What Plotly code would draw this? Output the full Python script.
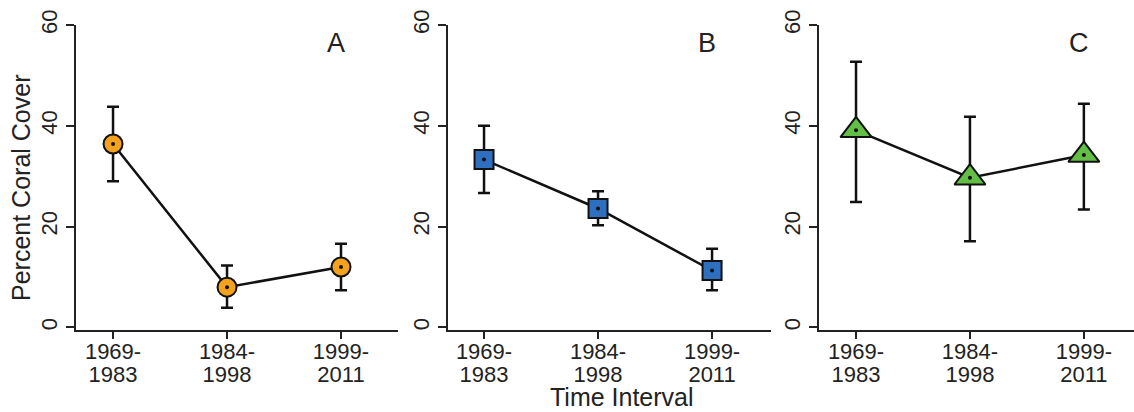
import plotly.graph_objects as go

interval_start = ["1969-", "1984-", "1999-"]
interval_end = ["1983", "1998", "2011"]
panel_labels = ["A", "B", "C"]

mean_a = [36.4, 8.0, 12.0]
upper_a = [43.8, 12.3, 16.6]
lower_a = [29.0, 3.9, 7.4]

mean_b = [33.3, 23.6, 11.3]
upper_b = [40.0, 27.0, 15.6]
lower_b = [26.7, 20.3, 7.4]

mean_c = [39.1, 29.7, 34.2]
upper_c = [52.7, 41.8, 44.4]
lower_c = [24.9, 17.1, 23.4]

y_ticks = [0, 20, 40, 60]

W, H = 1134, 412
ML, MR, MT, MB = 0, 0, 25, 82
FONT = "Liberation Sans, Arial"
TXT = "#222222"

panels = [
    dict(mean=mean_a, up=upper_a, lo=lower_a, symbol="circle", color="#F4A11D", size=19,
         dom=(76, 398), xr=(-0.325, 2.5)),
    dict(mean=mean_b, up=upper_b, lo=lower_b, symbol="square", color="#2F6FC0", size=19,
         dom=(448, 771), xr=(-0.316, 2.517)),
    dict(mean=mean_c, up=upper_c, lo=lower_c, symbol="triangle-up", color="#63BE45", size=27,
         dom=(819, 1134), xr=(-0.325, 2.44)),
]

fig = go.Figure()
xs = [0, 1, 2]
for i, p in enumerate(panels):
    n = "" if i == 0 else str(i + 1)
    n2 = str(i + 4)
    xa, ya = "x" + n, "y" + n
    fig.add_trace(go.Scatter(
        x=xs, y=p["mean"], xaxis=xa, yaxis=ya, mode="lines+markers",
        line=dict(color="#111111", width=2.5),
        marker=dict(symbol=p["symbol"], size=p["size"], color=p["color"],
                    line=dict(color="#111111", width=2)),
        error_y=dict(type="data", symmetric=False,
                     array=[u - m for u, m in zip(p["up"], p["mean"])],
                     arrayminus=[m - l for m, l in zip(p["mean"], p["lo"])],
                     color="#111111", thickness=2.5, width=6),
        showlegend=False, hoverinfo="skip"))
    fig.add_trace(go.Scatter(
        x=xs, y=p["mean"], xaxis=xa, yaxis=ya, mode="markers",
        marker=dict(symbol="circle", size=4, color="#111111"),
        showlegend=False, hoverinfo="skip"))

    d0 = (p["dom"][0] - ML) / (W - ML - MR)
    d1 = min((p["dom"][1] - ML) / (W - ML - MR), 1.0)
    fig.layout["xaxis" + n] = dict(
        domain=[d0, d1], range=list(p["xr"]), anchor=ya,
        tickvals=xs, ticktext=interval_start, showline=True, linecolor="#222222", linewidth=2,
        ticks="outside", ticklen=7, tickwidth=2, tickcolor="#222222",
        showgrid=False, zeroline=False, automargin=False, ticklabelstandoff=-6,
        tickfont=dict(family=FONT, size=22, color=TXT), fixedrange=True)
    # second line of the interval tick labels, on an overlaid axis
    fig.layout["xaxis" + n2] = dict(
        domain=[d0, d1], range=list(p["xr"]), anchor=ya, overlaying=xa, side="bottom",
        tickvals=xs, ticktext=interval_end, showline=False, ticks="",
        showgrid=False, zeroline=False, automargin=False, ticklabelstandoff=29,
        tickfont=dict(family=FONT, size=22, color=TXT), fixedrange=True)
    fig.layout["yaxis" + n] = dict(
        domain=[0, 1], range=[-0.5, 60], anchor=xa,
        tickvals=y_ticks, ticktext=[str(v) for v in y_ticks], tickangle=-90,
        showline=True, linecolor="#222222", linewidth=2,
        ticks="outside", ticklen=8, tickwidth=2, tickcolor="#222222",
        showgrid=False, zeroline=False, automargin=False,
        tickfont=dict(family=FONT, size=22, color=TXT), fixedrange=True)
    fig.add_annotation(x=1.96, y=56.5, xref=xa, yref=ya, text=panel_labels[i],
                       showarrow=False, font=dict(family=FONT, size=27, color="#222222"))

# invisible traces so the overlaid label axes render
for i in range(3):
    fig.add_trace(go.Scatter(x=[None], y=[None], xaxis="x" + str(i + 4),
                             yaxis="y" if i == 0 else "y" + str(i + 1),
                             showlegend=False, hoverinfo="skip"))

plot_h = H - MT - MB
fig.add_annotation(x=21 / W, y=(H - MB - 188) / plot_h, xref="paper", yref="paper",
                   xanchor="center", yanchor="middle",
                   text="Percent Coral Cover", textangle=-90, showarrow=False,
                   font=dict(family=FONT, size=25, color=TXT))
fig.add_annotation(x=622 / W, y=(H - MB - 397) / plot_h, xref="paper", yref="paper",
                   xanchor="center", yanchor="middle",
                   text="Time Interval", showarrow=False,
                   font=dict(family=FONT, size=25, color=TXT))

fig.update_layout(width=W, height=H, margin=dict(l=ML, r=MR, t=MT, b=MB, autoexpand=False),
                  paper_bgcolor="white", plot_bgcolor="white")
fig.write_html("out.html", config={"displayModeBar": False},
               post_script="document.body.style.margin='0';document.body.style.overflow='hidden';")
